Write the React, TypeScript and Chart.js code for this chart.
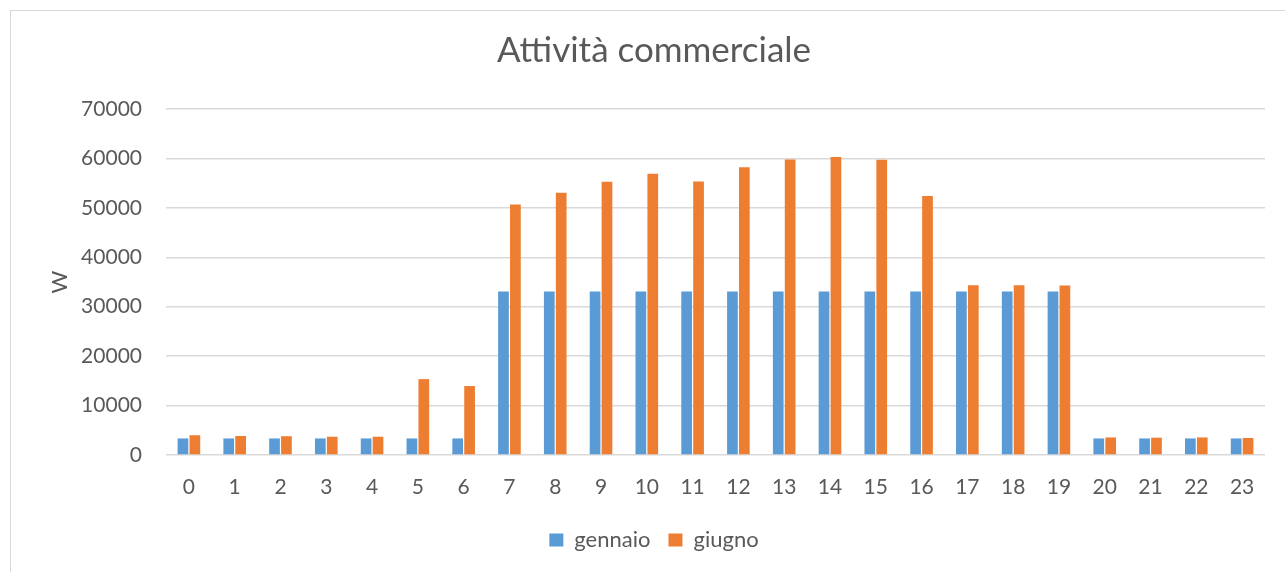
import React, { useEffect, useRef } from "react";
import { Chart, registerables } from "chart.js";

Chart.register(...registerables);

const categories = ["0","1","2","3","4","5","6","7","8","9","10","11","12","13","14","15","16","17","18","19","20","21","22","23"];
const gennaio = [3350,3350,3350,3350,3350,3350,3350,33100,33100,33100,33100,33100,33100,33100,33100,33100,33100,33100,33100,33100,3350,3350,3350,3350];
const giugno = [4000,3850,3800,3700,3700,15350,13950,50700,53050,55300,56900,55350,58200,59800,60300,59750,52400,34350,34350,34300,3550,3500,3550,3450];
const titleText = "Attività commerciale";
const yTitle = "W";

const FONT = "Lato, 'Open Sans', sans-serif";
const TEXT = "#595959";

export default function App() {
  const ref = useRef<HTMLCanvasElement>(null);
  useEffect(() => {
    document.body.style.margin = "0";
    const chart = new Chart(ref.current!, {
      type: "bar",
      data: {
        labels: categories,
        datasets: [
          { label: "gennaio", data: gennaio, backgroundColor: "#5B9BD5", categoryPercentage: 0.52, barPercentage: 0.9 },
          { label: "giugno", data: giugno, backgroundColor: "#ED7D31", categoryPercentage: 0.52, barPercentage: 0.9 },
        ],
      },
      options: {
        animation: false,
        responsive: false,
        layout: { padding: { left: 43, right: 20, top: 0, bottom: 11 } },
        plugins: {
          title: {
            display: true,
            text: titleText,
            color: TEXT,
            font: { family: FONT, size: 35, weight: "normal" },
            padding: { top: 30, bottom: 37 },
          },
          legend: {
            position: "bottom",
            labels: {
              color: TEXT,
              font: { family: FONT, size: 22 },
              boxWidth: 14,
              boxHeight: 13,
              padding: 18,
            },
          },
          tooltip: { enabled: false },
        },
        scales: {
          x: {
            grid: { display: false },
            border: { display: false },
            ticks: { color: TEXT, font: { family: FONT, size: 21 }, padding: 12 },
            afterFit: (s: any) => { s.height = 56; },
          },
          y: {
            min: 0,
            max: 70000,
            ticks: {
              stepSize: 10000,
              color: TEXT,
              font: { family: FONT, size: 21 },
              padding: 24,
              callback: (v: any) => String(v),
            },
            grid: { color: "#d9d9d9", lineWidth: 1.5, drawTicks: false },
            border: { display: false },
            title: { display: true, text: yTitle, color: TEXT, font: { family: FONT, size: 22 }, padding: { bottom: 20 } },
            afterFit: (s: any) => { s.width = 123; },
          },
        },
      },
    });
    return () => chart.destroy();
  }, []);
  return (
    <div style={{ position: "relative", width: 1285, height: 572, overflow: "hidden", background: "#fff" }}>
      <div style={{ position: "absolute", left: 10, top: 10, width: 1300, height: 600, border: "1px solid #d9d9d9", boxSizing: "border-box" }} />
      <canvas ref={ref} width={1285} height={572} style={{ position: "absolute", left: 0, top: 0 }} />
    </div>
  );
}
